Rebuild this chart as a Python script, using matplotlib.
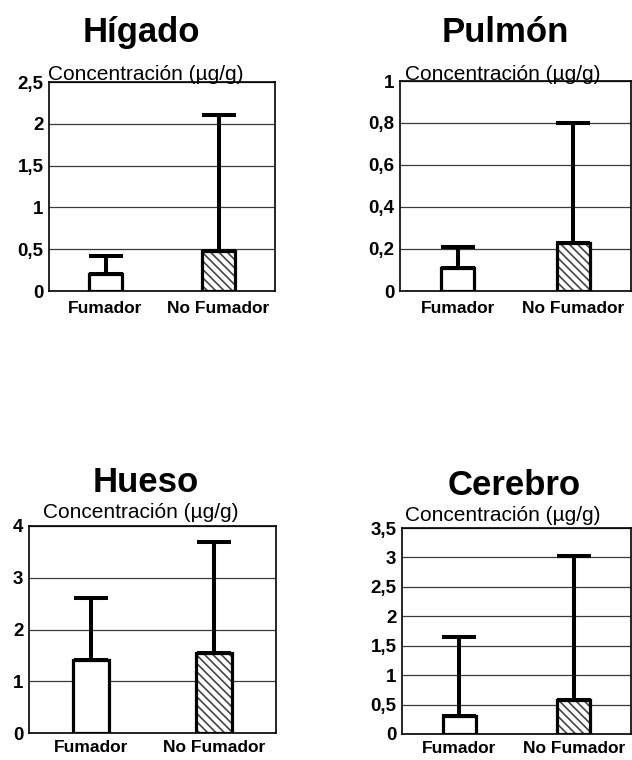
import numpy as np
import matplotlib
matplotlib.use("Agg")
import matplotlib.pyplot as plt

plt.rcParams['font.family'] = ['Liberation Sans', 'DejaVu Sans']
plt.rcParams['hatch.linewidth'] = 1.2

## datos
grupos = ['Fumador', 'No Fumador']
organos = ['Hígado', 'Pulmón', 'Hueso', 'Cerebro']
media_higado = [0.2, 0.48]
max_higado = [0.42, 2.1]
media_pulmon = [0.11, 0.23]
max_pulmon = [0.21, 0.8]
media_hueso = [1.42, 1.55]
max_hueso = [2.6, 3.7]
media_cerebro = [0.31, 0.58]
max_cerebro = [1.65, 3.03]
ymax = [2.5, 1.0, 4.0, 3.5]
ypaso = [0.5, 0.2, 1.0, 0.5]

medias = [media_higado, media_pulmon, media_hueso, media_cerebro]
maximos = [max_higado, max_pulmon, max_hueso, max_cerebro]

W, H = 632, 760
fig = plt.figure(figsize=(W / 100, H / 100), dpi=100)

## cajas de los ejes en pixeles: izq, der, arriba, abajo
cajas = [(49, 275, 82, 291), (400, 631, 81, 291), (29, 276, 526, 733), (402, 631, 528, 734)]
## titulo: x relativa, subida en px; etiqueta: desplazamiento en px
titulos = [(0.407, 40), (0.455, 39), (0.472, 34), (0.489, 33)]
etiquetas = [(-1, 2), (5, 1), (14, 8), (3, 7)]


def fmt(v):
    s = ('%.1f' % v).rstrip('0').rstrip('.')
    return s.replace('.', ',')


for i in range(4):
    l, r, t, b = cajas[i]
    ax = fig.add_axes([l / W, 1 - b / H, (r - l) / W, (b - t) / H])
    x = np.arange(len(grupos))
    med = np.array(medias[i])
    sup = np.array(maximos[i]) - med

    ax.bar(x[0], med[0], width=0.29, color='white', edgecolor='black', linewidth=2.3, zorder=3)
    ax.bar(x[1], med[1], width=0.29, color='white', edgecolor='#444444', hatch='\\\\\\\\', linewidth=0, zorder=3)
    ax.bar(x[1], med[1], width=0.29, color='none', edgecolor='black', linewidth=2.3, zorder=4)
    ax.errorbar(x, med, yerr=[np.zeros(2), sup], fmt='none', ecolor='black',
                elinewidth=2.9, capsize=12, capthick=2.9, zorder=5)

    ax.set_xlim(-0.5, 1.5)
    ax.set_ylim(0, ymax[i])
    ticks = np.arange(0, ymax[i] + ypaso[i] / 2, ypaso[i])
    ax.set_yticks(ticks)
    ax.set_yticklabels([fmt(v) for v in ticks], fontsize=13.5, fontweight='bold')
    ax.set_xticks(x)
    ax.set_xticklabels(grupos, fontsize=12.5, fontweight='bold')
    ax.tick_params(length=0)
    ax.tick_params(axis='y', pad=4)
    ax.tick_params(axis='x', pad=7 if i < 2 else 5)
    ax.yaxis.grid(True, color='#3a3a3a', linewidth=0.9)
    ax.set_axisbelow(True)
    for s in ax.spines.values():
        s.set_linewidth(1.2)

    tx, ty = titulos[i]
    ax.annotate(organos[i], xy=(tx, 1), xycoords='axes fraction', xytext=(0, ty * 0.72),
                textcoords='offset points', ha='center', va='baseline',
                fontsize=25, fontweight='bold')
    ex, ey = etiquetas[i]
    ax.annotate('Concentración (µg/g)', xy=(0, 1), xycoords='axes fraction',
                xytext=(ex * 0.72, ey * 0.72), textcoords='offset points',
                ha='left', va='baseline', fontsize=15)

fig.savefig('out.png', dpi=100)
